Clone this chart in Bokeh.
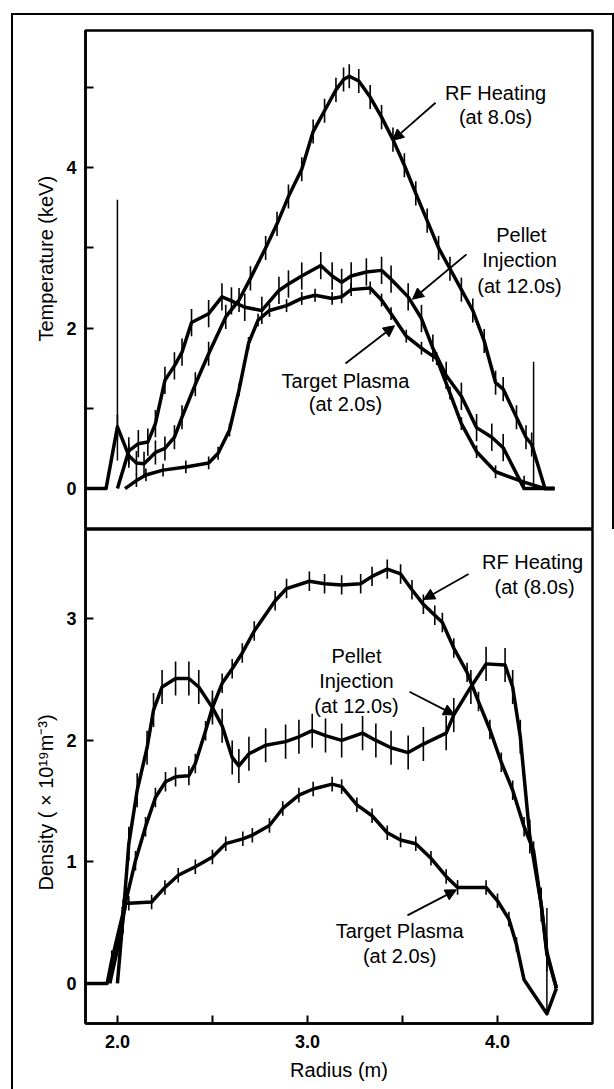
from bokeh.plotting import figure
from bokeh.layouts import column
from bokeh.models import (Range1d, FixedTicker, PrintfTickFormatter, Arrow,
                          NormalHead, Title, ColumnDataSource)
from bokeh.core.properties import value
from bokeh.embed import file_html
from bokeh.resources import INLINE

FONT = "Liberation Sans"

# ---------------- Temperature panel (keV) ----------------
rf_t_r = [1.832, 1.94, 2.00, 2.06, 2.10, 2.14, 2.20, 2.25, 2.30, 2.34, 2.41, 2.48, 2.57,
          2.64, 2.70, 2.78, 2.84, 2.90, 2.97, 3.03, 3.09, 3.15, 3.19, 3.22, 3.27,
          3.33, 3.39, 3.45, 3.51, 3.57, 3.63, 3.69, 3.75, 3.81, 3.87, 3.93, 3.99, 4.03,
          4.10, 4.15, 4.18, 4.25, 4.30]
rf_t = [0, 0, 0.77, 0.41, 0.32, 0.31, 0.45, 0.50, 0.64, 0.89, 1.30, 1.68, 2.14,
        2.35, 2.62, 3.00, 3.30, 3.64, 3.98, 4.45, 4.71, 4.97, 5.10, 5.14, 5.08,
        4.88, 4.63, 4.35, 4.03, 3.68, 3.34, 3.00, 2.74, 2.48, 2.22, 1.84, 1.32, 1.24,
        0.89, 0.64, 0.55, 0, 0]

pel_t_r = [2.00, 2.06, 2.11, 2.16, 2.20, 2.25, 2.30, 2.34, 2.39, 2.48, 2.55, 2.60, 2.67,
           2.76, 2.85, 2.90, 2.97, 3.07, 3.13, 3.18, 3.23, 3.31, 3.39, 3.44, 3.53,
           3.60, 3.66, 3.73, 3.81, 3.89, 3.97, 4.03, 4.14, 4.30]
pel_t = [0, 0.47, 0.56, 0.58, 0.81, 1.35, 1.53, 1.70, 2.07, 2.18, 2.39, 2.34, 2.26,
         2.22, 2.47, 2.55, 2.65, 2.78, 2.65, 2.57, 2.65, 2.70, 2.72, 2.61, 2.39,
         2.12, 1.75, 1.41, 1.15, 0.76, 0.64, 0.51, 0, 0]

tgt_t_r = [2.04, 2.10, 2.15, 2.24, 2.36, 2.48, 2.53, 2.59, 2.64, 2.69, 2.74, 2.80, 2.89,
           2.97, 3.04, 3.13, 3.18, 3.23, 3.33, 3.39, 3.44, 3.52, 3.60, 3.68, 3.75,
           3.81, 3.89, 3.99, 4.14, 4.25, 4.30]
tgt_t = [0, 0.10, 0.17, 0.23, 0.27, 0.32, 0.44, 0.73, 1.23, 1.81, 2.10, 2.22, 2.28,
         2.37, 2.41, 2.37, 2.39, 2.48, 2.50, 2.35, 2.18, 1.90, 1.75, 1.62, 1.19,
         0.81, 0.46, 0.21, 0.08, 0, 0]

# error-bar half heights (keV)
rf_t_err = 0.15
pel_t_err = 0.17
tgt_t_err = 0.08

# long single error bars
spike_t_r = [2.00, 4.19]
spike_t_lo = [0.35, 0.0]
spike_t_hi = [3.60, 1.58]

# ---------------- Density panel (1e19 m^-3) ----------------
rf_n_r = [1.832, 1.946, 1.97, 2.025, 2.095, 2.148, 2.20, 2.253, 2.306, 2.376, 2.41, 2.464,
          2.50, 2.551, 2.604, 2.657, 2.72, 2.83, 2.89, 3.01, 3.09, 3.18, 3.28, 3.34, 3.42,
          3.49, 3.55, 3.61, 3.67, 3.71, 3.77, 3.84, 3.90, 3.96, 4.02, 4.08, 4.14, 4.19,
          4.23, 4.26, 4.31]
rf_n = [0, 0, 0.19, 0.55, 1.01, 1.29, 1.53, 1.66, 1.70, 1.71, 1.81, 2.08,
        2.27, 2.47, 2.59, 2.72, 2.90, 3.15, 3.25, 3.31, 3.29, 3.28, 3.29, 3.35, 3.41,
        3.37, 3.24, 3.12, 3.03, 2.97, 2.76, 2.56, 2.32, 2.09, 1.82, 1.59, 1.29, 1.09,
        0.65, 0.26, -0.04]

pel_n_r = [2.00, 2.03, 2.06, 2.104, 2.156, 2.19, 2.235, 2.306, 2.376, 2.428, 2.50, 2.551,
           2.604, 2.639, 2.692, 2.78, 2.885, 2.955, 3.025, 3.095, 3.18, 3.29, 3.36, 3.44,
           3.53, 3.61, 3.73, 3.77, 3.86, 3.94, 4.04, 4.08, 4.12, 4.17, 4.23, 4.26, 4.31]
pel_n = [0, 0.55, 1.15, 1.59, 1.94, 2.25, 2.44, 2.51, 2.51, 2.44, 2.27, 2.12,
         1.86, 1.79, 1.89, 1.96, 1.99, 2.03, 2.08, 2.04, 2.00, 2.06, 2.00, 1.94,
         1.90, 1.97, 2.06, 2.21, 2.44, 2.63, 2.62, 2.44, 2.03, 1.21, 0.65, 0.24, -0.04]

tgt_n_r = [1.96, 2.01, 2.043, 2.06, 2.18, 2.25, 2.32, 2.41, 2.50, 2.57, 2.66, 2.71, 2.80,
           2.87, 2.955, 3.03, 3.13, 3.18, 3.26, 3.34, 3.42, 3.49, 3.57, 3.65, 3.73, 3.79,
           3.94, 4.00, 4.06, 4.10, 4.14, 4.26, 4.31]
tgt_n = [0, 0.35, 0.66, 0.66, 0.67, 0.79, 0.89, 0.96, 1.04, 1.15, 1.19, 1.22, 1.30,
         1.44, 1.55, 1.60, 1.64, 1.62, 1.47, 1.38, 1.24, 1.18, 1.15, 1.03, 0.88, 0.79,
         0.79, 0.68, 0.53, 0.32, 0.03, -0.25, -0.04]

rf_n_err = 0.08
pel_n_err = 0.14
tgt_n_err = 0.06

spike_n_r = [4.26]
spike_n_lo = [-0.25]
spike_n_hi = [0.62]

# ---------------- annotations ----------------
t_lab_x = [3.99, 3.99, 4.125, 4.116, 4.116, 3.20, 3.20]
t_lab_y = [4.925, 4.626, 3.155, 2.855, 2.531, 1.347, 1.06]
t_lab_txt = ["RF Heating", "(at 8.0s)", "Pellet", "Injection", "(at 12.0s)",
             "Target Plasma", "(at 2.0s)"]
t_arr_x0 = [3.674, 3.837, 3.200]
t_arr_y0 = [4.81, 2.92, 1.56]
t_arr_x1 = [3.448, 3.553, 3.458]
t_arr_y1 = [4.34, 2.36, 2.03]

n_lab_x = [4.185, 4.195, 3.258, 3.258, 3.258, 3.485, 3.485]
n_lab_y = [3.465, 3.259, 2.691, 2.486, 2.28, 0.428, 0.222]
n_lab_txt = ["RF Heating", "(at (8.0s)", "Pellet", "Injection", "(at 12.0s)",
             "Target Plasma", "(at 2.0s)"]
n_arr_x0 = [3.848, 3.537, 3.526]
n_arr_y0 = [3.37, 2.40, 0.56]
n_arr_x1 = [3.611, 3.774, 3.784]
n_arr_y1 = [3.16, 2.21, 0.77]

x_ticks = [2.0, 3.0, 4.0]
x_minor = [2.5, 3.5]
t_ticks = [0, 2, 4]
t_minor = [1, 3, 5]
n_ticks = [0, 1, 2, 3]

x_title = "Radius (m)"
t_title = "Temperature (keV)"
n_title = "Density ( \u00d7 10\u00b9\u2079m\u207b\u00b3)"


def base_style(p):
    p.grid.visible = False
    p.outline_line_color = "black"
    p.outline_line_width = 2.5
    p.background_fill_color = "white"
    p.border_fill_color = "white"
    for ax in p.axis:
        ax.axis_line_width = 2.5
        ax.major_tick_in = 8
        ax.major_tick_out = 0
        ax.minor_tick_in = 8
        ax.minor_tick_out = 0
        ax.major_tick_line_width = 2
        ax.minor_tick_line_width = 2
        ax.major_label_text_font = FONT
        ax.major_label_text_font_size = "18px"
        ax.major_label_text_font_style = "bold"
        ax.major_label_text_color = "black"
        ax.axis_label_text_font = FONT
        ax.axis_label_text_font_size = "20px"
        ax.axis_label_text_font_style = "normal"
        ax.axis_label_text_color = "black"


def draw_series(p, xs, ys, err, lw=3.5):
    p.line(xs, ys, line_color="black", line_width=lw, line_join="round")
    ex = [x for x, y in zip(xs[1:-1], ys[1:-1]) if y > 0.05]
    ey = [y for y in ys[1:-1] if y > 0.05]
    p.segment(x0=ex, y0=[y - err for y in ey], x1=ex, y1=[y + err for y in ey],
              line_color="black", line_width=1.6)


def add_labels(p, xs, ys, txt, ax0, ay0, ax1, ay1):
    p.text(x=xs, y=ys, text=txt, text_font=value(FONT), text_font_size="20px",
           text_align="center", text_baseline="middle", text_color="black")
    src = ColumnDataSource(dict(x0=ax0, y0=ay0, x1=ax1, y1=ay1))
    p.add_layout(Arrow(source=src, x_start="x0", y_start="y0", x_end="x1", y_end="y1",
                       line_color="black", line_width=1.8,
                       end=NormalHead(size=11, fill_color="black", line_color="black",
                                      line_width=1)))


def side_title(p, text, offset):
    p.add_layout(Title(text=text, align="left", offset=offset, standoff=14,
                       text_font=FONT, text_font_size="20px", text_font_style="normal",
                       text_color="black"), "left")


# ---------------- top figure ----------------
p1 = figure(width=599, height=514, x_range=Range1d(1.832, 4.5), y_range=Range1d(-0.51, 5.71),
            x_axis_location=None, toolbar_location=None, output_backend="svg",
            min_border_left=72, min_border_right=20, min_border_top=15, min_border_bottom=0)
base_style(p1)
p1.yaxis.ticker = FixedTicker(ticks=t_ticks, minor_ticks=t_minor)
p1.yaxis.formatter = PrintfTickFormatter(format="%d")
p1.yaxis.major_label_standoff = 9
side_title(p1, t_title, 188)

draw_series(p1, rf_t_r, rf_t, rf_t_err)
draw_series(p1, pel_t_r, pel_t, pel_t_err)
draw_series(p1, tgt_t_r, tgt_t, tgt_t_err)
p1.segment(x0=spike_t_r, y0=spike_t_lo, x1=spike_t_r, y1=spike_t_hi,
           line_color="black", line_width=1.5)
add_labels(p1, t_lab_x, t_lab_y, t_lab_txt, t_arr_x0, t_arr_y0, t_arr_x1, t_arr_y1)

# ---------------- bottom figure ----------------
p2 = figure(width=601, height=560, x_range=Range1d(1.832, 4.5), y_range=Range1d(-0.33, 3.736),
            toolbar_location=None, output_backend="svg",
            min_border_left=72, min_border_right=22, min_border_top=0, min_border_bottom=66)
base_style(p2)
p2.xaxis.ticker = FixedTicker(ticks=x_ticks, minor_ticks=x_minor)
p2.xaxis.formatter = PrintfTickFormatter(format="%.1f")
p2.xaxis.axis_label = x_title
p2.xaxis.major_label_standoff = 11
p2.xaxis.axis_label_standoff = 8
p2.yaxis.ticker = FixedTicker(ticks=n_ticks, minor_ticks=[])
p2.yaxis.formatter = PrintfTickFormatter(format="%d")
p2.yaxis.major_label_standoff = 9
side_title(p2, n_title, 133)

draw_series(p2, rf_n_r, rf_n, rf_n_err)
draw_series(p2, pel_n_r, pel_n, pel_n_err)
draw_series(p2, tgt_n_r, tgt_n, tgt_n_err)
p2.segment(x0=spike_n_r, y0=spike_n_lo, x1=spike_n_r, y1=spike_n_hi,
           line_color="black", line_width=1.5)
add_labels(p2, n_lab_x, n_lab_y, n_lab_txt, n_arr_x0, n_arr_y0, n_arr_x1, n_arr_y1)

top = column(p1, spacing=0, styles={"border-right": "2px solid black"})
layout = column(top, p2, spacing=0,
                styles={"margin-left": "11px", "margin-top": "13px",
                        "border-left": "2px solid black", "border-top": "2px solid black"})
open("out.html", "w").write(file_html(layout, INLINE))
